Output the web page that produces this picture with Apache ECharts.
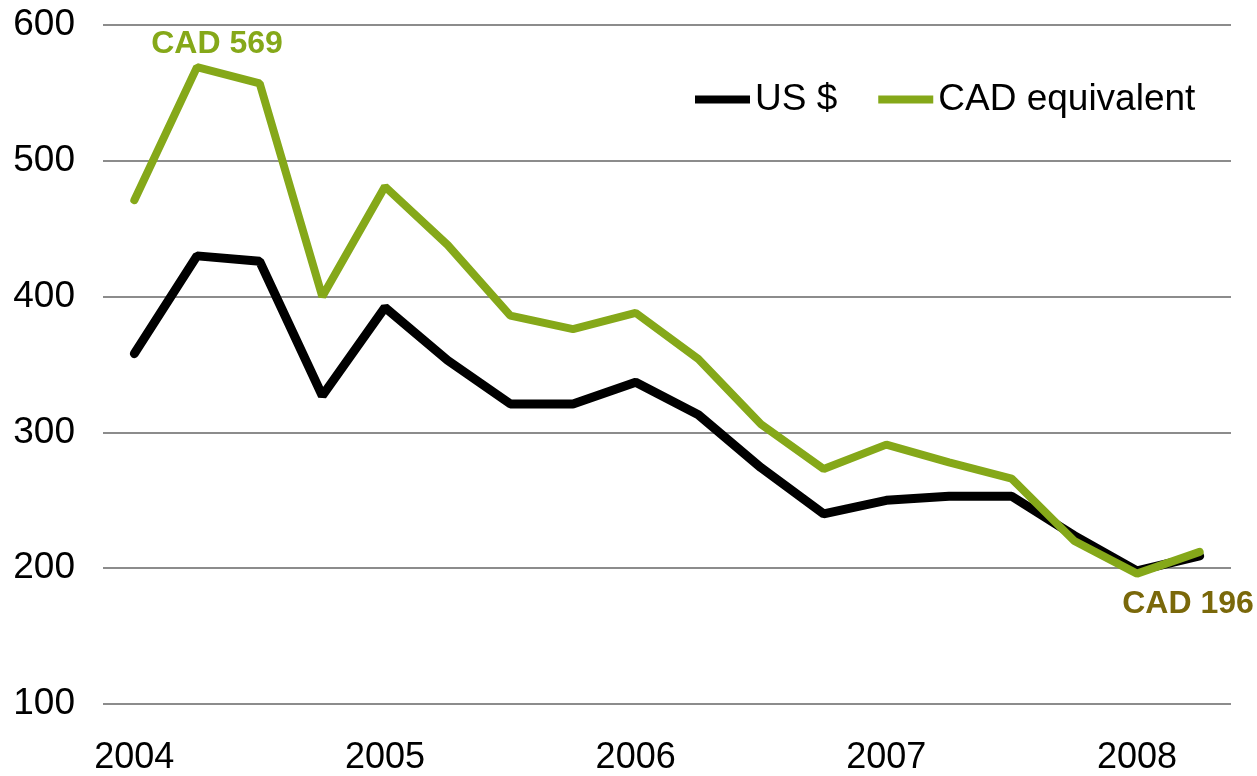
<!DOCTYPE html>
<html>
<head>
<meta charset="utf-8">
<title>US $ vs CAD equivalent</title>
<script src="https://cdn.jsdelivr.net/npm/echarts@6/dist/echarts.min.js"></script>
<style>
    html, body {
        margin: 0;
        padding: 0;
        background: #fff;
    }
    #chart {
        width: 1257px;
        height: 776px;
    }
</style>
</head>
<body>
<div id="chart"></div>
<script>
// quarterly points, 2004 Q1 .. 2008 Q2
const quarters = [
    '2004', '2004 Q2', '2004 Q3', '2004 Q4',
    '2005', '2005 Q2', '2005 Q3', '2005 Q4',
    '2006', '2006 Q2', '2006 Q3', '2006 Q4',
    '2007', '2007 Q2', '2007 Q3', '2007 Q4',
    '2008', '2008 Q2'
]
const usValues = [358, 430, 426, 327, 392, 353, 321, 321, 337, 313, 274, 240, 250, 253, 253, 224, 198, 209]
const cadValues = [471, 569, 557, 400, 481, 438, 386, 376, 388, 354, 306, 273, 291, 278, 266, 220, 196, 212]
const yTicks = [100, 200, 300, 400, 500, 600]

const fontFamily = '"Liberation Sans", Arial, sans-serif'
const green = '#85a819'

// 最高点和最低点的标注
const peakIdx = 1
const lowIdx = 16

const chart = echarts.init(document.getElementById('chart'))

chart.setOption({
    animation: false,
    grid: {
        left: 103,
        right: 26,
        top: 25,
        bottom: 71
    },
    legend: {
        left: 690,
        top: 76,
        icon: 'rect',
        itemWidth: 55,
        itemHeight: 8,
        itemGap: 41,
        textStyle: {
            fontFamily: fontFamily,
            fontSize: 37,
            color: '#000'
        },
        data: ['US $', 'CAD equivalent']
    },
    xAxis: {
        type: 'category',
        data: quarters,
        boundaryGap: true,
        axisLine: {show: false},
        axisTick: {show: false},
        axisLabel: {
            interval: 3,
            margin: 36,
            fontFamily: fontFamily,
            fontSize: 36,
            color: '#000',
            formatter: v => v.slice(0, 4)
        }
    },
    yAxis: {
        type: 'value',
        min: yTicks[0],
        max: yTicks[yTicks.length - 1],
        interval: 100,
        axisLine: {show: false},
        axisTick: {show: false},
        axisLabel: {
            margin: 28,
            fontFamily: fontFamily,
            fontSize: 37,
            color: '#000'
        },
        splitLine: {
            lineStyle: {color: '#8c8c8c', width: 2}
        }
    },
    series: [
        {
            name: 'US $',
            type: 'line',
            data: usValues,
            symbol: 'none',
            itemStyle: {color: '#000'},
            lineStyle: {color: '#000', width: 9, cap: 'round'}
        },
        {
            name: 'CAD equivalent',
            type: 'line',
            data: cadValues,
            symbol: 'none',
            itemStyle: {color: green},
            lineStyle: {color: green, width: 8, cap: 'round'},
            markPoint: {
                symbol: 'circle',
                symbolSize: 0,
                data: [
                    {
                        coord: [quarters[peakIdx], cadValues[peakIdx]],
                        value: cadValues[peakIdx],
                        label: {
                            position: 'top',
                            offset: [20, -2],
                            color: green
                        }
                    },
                    {
                        coord: [quarters[lowIdx], cadValues[lowIdx]],
                        value: cadValues[lowIdx],
                        label: {
                            position: 'bottom',
                            offset: [51, 10],
                            color: '#7a680a'
                        }
                    }
                ],
                label: {
                    show: true,
                    formatter: 'CAD {c}',
                    fontFamily: fontFamily,
                    fontSize: 32,
                    fontWeight: 'bold'
                }
            }
        }
    ]
})
</script>
</body>
</html>
